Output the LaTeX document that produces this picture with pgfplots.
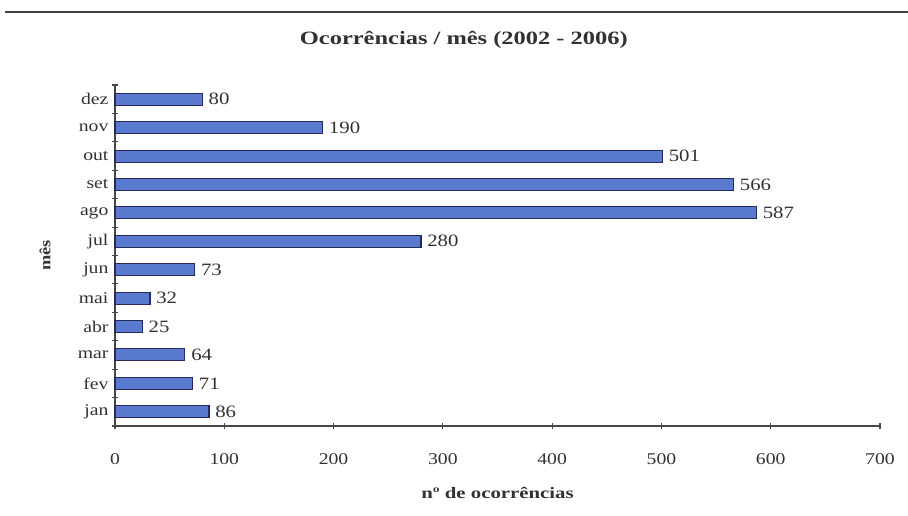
\documentclass[border=0pt]{standalone}
\usepackage{fontspec}
\setmainfont{Liberation Serif}[FakeStretch=1.2]
\newfontfamily\widefont{Liberation Serif}[FakeStretch=1.3]
\usepackage{pgfplots}
\pgfplotsset{compat=1.18}

\definecolor{barblue}{RGB}{90,122,208}
\definecolor{baredge}{RGB}{40,42,90}
\definecolor{axgray}{RGB}{70,70,70}
\definecolor{txt}{RGB}{50,50,50}

\begin{document}
\begin{tikzpicture}
% canvas: 908 x 515 px at 0.75pt/px, axis box lower-left at px (115,426)
\path[use as bounding box] (-86.25pt,-66.75pt) rectangle (594.75pt,319.5pt);
\draw[line width=1.5pt, black!75] (-82.5pt,310.5pt) -- (594.75pt,310.5pt);
\begin{axis}[
    xbar,
    scale only axis,
    width=573.75pt, height=255.75pt,
    xmin=0, xmax=700,
    ymin=-0.5, ymax=11.5,
    xtick={0,100,...,700},
    ytick={-0.5,0.5,...,11.5},
    y tick label as interval,
    yticklabels={jan,fev,mar,abr,mai,jun,jul,ago,set,out,nov,dez},
    major tick length=4.8pt,
    tick align=outside,
    tick pos=left,
    tick style={axgray, line width=0.8pt},
    axis lines=left,
    axis line style={-, axgray, line width=0.8pt},
    bar width=9pt,
    /pgf/number format/assume math mode=true,
    ticklabel style={font=\fontsize{12.3}{14}\selectfont, text=txt},
    yticklabel style={xshift=1pt},
    xticklabel style={yshift=-15pt},
    nodes near coords,
    nodes near coords style={font=\fontsize{13}{15}\selectfont, text=txt, xshift=1pt},
    title={\widefont\bfseries Ocorrências / mês (2002 - 2006)},
    title style={at={(axis description cs:0.456,1)}, anchor=center, yshift=27.75pt, font=\fontsize{14.1}{16}\selectfont, text=txt},
    xlabel={\widefont\bfseries nº de ocorrências},
    xlabel style={at={(axis description cs:0.5,0)}, anchor=center, yshift=-50pt, font=\fontsize{12}{14}\selectfont, text=txt},
    ylabel={\bfseries mês},
    ylabel style={at={(axis description cs:-0.0915,0.5)}, anchor=center, font=\fontsize{11.5}{13}\selectfont, text=txt},
    clip=false,
]
\addplot[fill=barblue, draw=baredge, line width=0.8pt] coordinates {
    (86,0) (71,1) (64,2) (25,3) (32,4) (73,5)
    (280,6) (587,7) (566,8) (501,9) (190,10) (80,11)
};
\end{axis}
\end{tikzpicture}
\end{document}
